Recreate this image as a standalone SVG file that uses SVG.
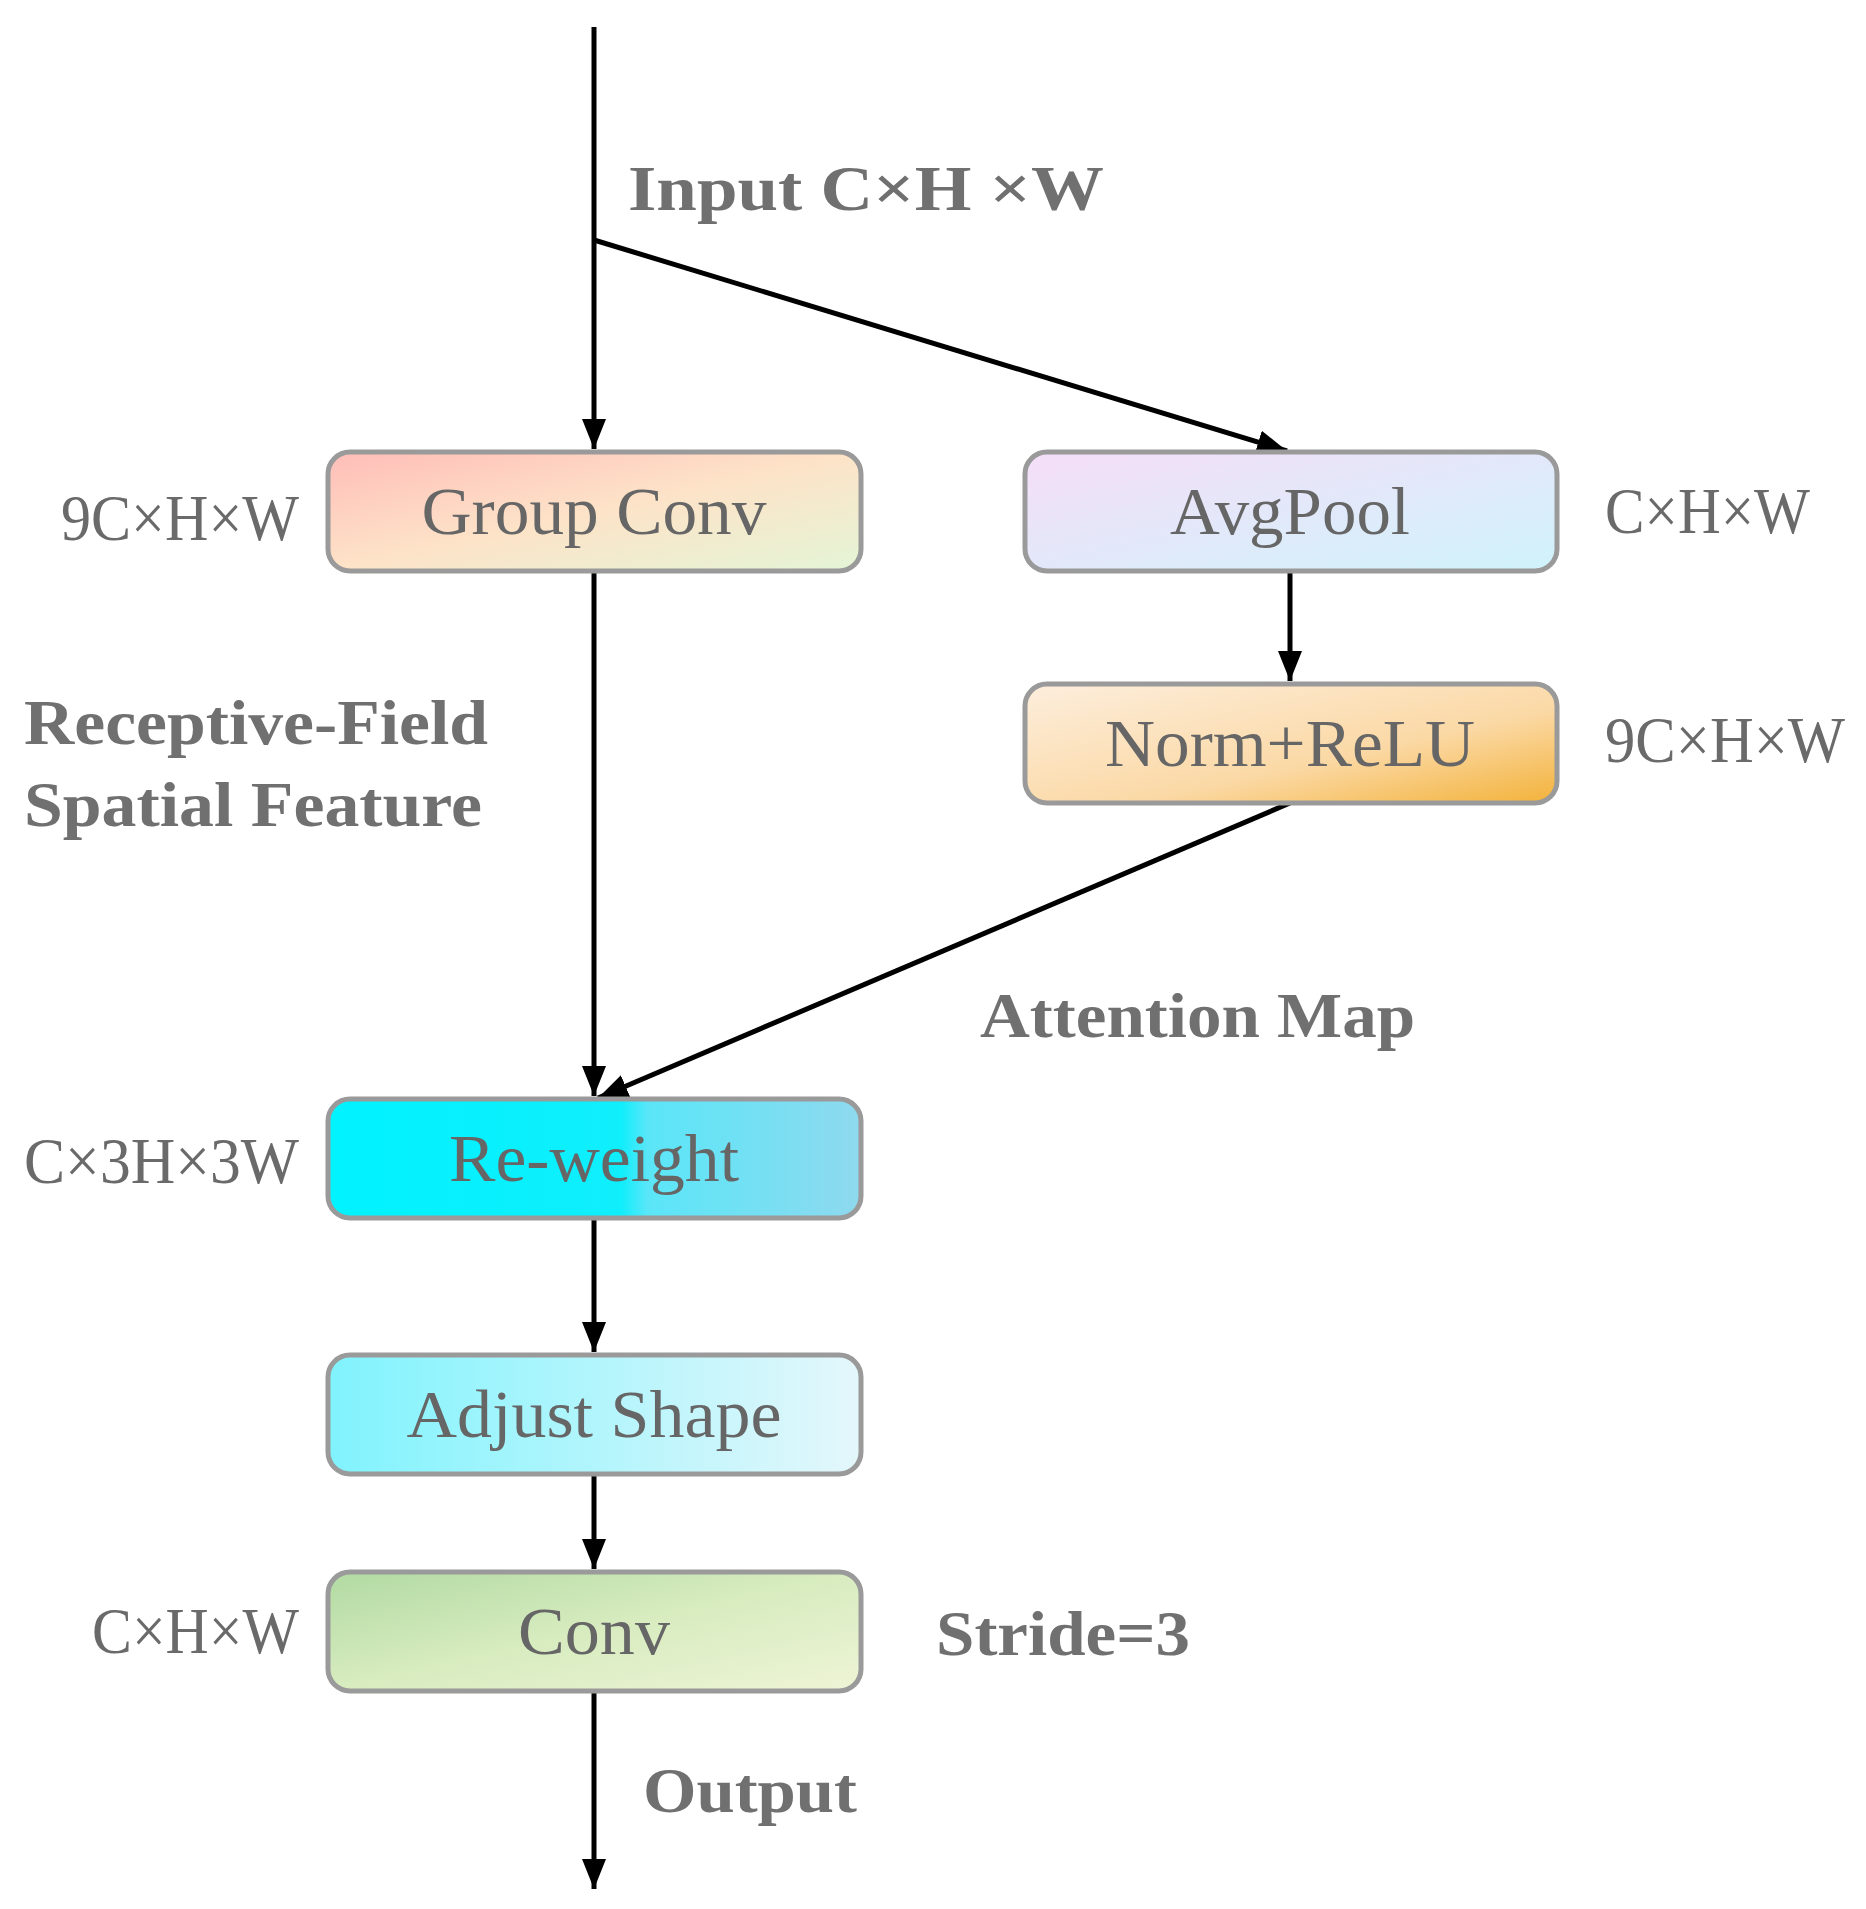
<svg xmlns="http://www.w3.org/2000/svg" width="1866" height="1909" viewBox="0 0 1866 1909">
<defs>
<linearGradient id="gGC" x1="0" y1="0" x2="1" y2="1"><stop offset="0" stop-color="#ffbdb8"/><stop offset="0.5" stop-color="#fde3c8"/><stop offset="1" stop-color="#e4f5d6"/></linearGradient>
<linearGradient id="gAP" x1="0" y1="0" x2="1" y2="1"><stop offset="0" stop-color="#f6def8"/><stop offset="1" stop-color="#cff3fb"/></linearGradient>
<linearGradient id="gNR" x1="0" y1="0" x2="1" y2="1"><stop offset="0" stop-color="#fdeedd"/><stop offset="0.6" stop-color="#fbd9a6"/><stop offset="1" stop-color="#f3b23a"/></linearGradient>
<linearGradient id="gRW" x1="0" y1="0" x2="1" y2="0"><stop offset="0" stop-color="#00f3ff"/><stop offset="0.55" stop-color="#10eefc"/><stop offset="0.6" stop-color="#5ae6f8"/><stop offset="1" stop-color="#8fd9ee"/></linearGradient>
<linearGradient id="gAS" x1="0" y1="0" x2="1" y2="0"><stop offset="0" stop-color="#80f3fd"/><stop offset="1" stop-color="#e4f7fb"/></linearGradient>
<linearGradient id="gCV" x1="0" y1="0" x2="1" y2="1"><stop offset="0" stop-color="#b1daa2"/><stop offset="0.5" stop-color="#d8ecc0"/><stop offset="1" stop-color="#eef4d6"/></linearGradient>
<marker id="arr" viewBox="0 0 10 10" refX="10" refY="5" markerWidth="6" markerHeight="6" markerUnits="strokeWidth" orient="auto"><path d="M0,1 L10,5 L0,9 z" fill="#000"/></marker>
</defs>
<style>
.box{stroke:#9a9a9a;stroke-width:5}
.nt{font-family:"Liberation Serif",serif;font-size:68px;fill:#666;text-anchor:middle}
.dim{font-family:"Liberation Serif",serif;font-size:66px;fill:#6a6a6a}
.lb{font-family:"Liberation Serif",serif;font-weight:bold;font-size:64px;fill:#707070}
.c{stroke:#000;stroke-width:5;fill:none}
</style>
<rect width="1866" height="1909" fill="#fff"/>
<g id="connectors">
<line class="c" x1="594" y1="27" x2="594" y2="449" marker-end="url(#arr)"/>
<line class="c" x1="594" y1="240" x2="1287" y2="451" marker-end="url(#arr)"/>
<line class="c" x1="1290" y1="573" x2="1290" y2="681" marker-end="url(#arr)"/>
<line class="c" x1="594" y1="571" x2="594" y2="1096" marker-end="url(#arr)"/>
<line class="c" x1="1290" y1="803" x2="598" y2="1098" marker-end="url(#arr)"/>
<line class="c" x1="594" y1="1218" x2="594" y2="1352" marker-end="url(#arr)"/>
<line class="c" x1="594" y1="1474" x2="594" y2="1569" marker-end="url(#arr)"/>
<line class="c" x1="594" y1="1691" x2="594" y2="1889" marker-end="url(#arr)"/>
</g>
<g id="groupconv"><rect class="box" x="328" y="452" width="533" height="119" rx="22" fill="url(#gGC)"/><text class="nt" x="594" y="534" textLength="345" lengthAdjust="spacingAndGlyphs">Group Conv</text></g>
<g id="avgpool"><rect class="box" x="1025" y="452" width="532" height="119" rx="22" fill="url(#gAP)"/><text class="nt" x="1290" y="534" textLength="240" lengthAdjust="spacingAndGlyphs">AvgPool</text></g>
<g id="normrelu"><rect class="box" x="1025" y="684" width="532" height="119" rx="22" fill="url(#gNR)"/><text class="nt" x="1290" y="766" textLength="370" lengthAdjust="spacingAndGlyphs">Norm+ReLU</text></g>
<g id="reweight"><rect class="box" x="328" y="1099" width="533" height="119" rx="22" fill="url(#gRW)"/><text class="nt" x="594" y="1181" textLength="290" lengthAdjust="spacingAndGlyphs">Re-weight</text></g>
<g id="adjust"><rect class="box" x="328" y="1355" width="533" height="119" rx="22" fill="url(#gAS)"/><text class="nt" x="594" y="1437" textLength="375" lengthAdjust="spacingAndGlyphs">Adjust Shape</text></g>
<g id="conv"><rect class="box" x="328" y="1572" width="533" height="119" rx="22" fill="url(#gCV)"/><text class="nt" x="594" y="1654" textLength="152" lengthAdjust="spacingAndGlyphs">Conv</text></g>
<g id="labels">
<text class="lb" x="628" y="210" textLength="476" lengthAdjust="spacingAndGlyphs">Input C×H ×W</text>
<text class="lb" x="24" y="744" textLength="464" lengthAdjust="spacingAndGlyphs">Receptive-Field</text>
<text class="lb" x="24" y="826" textLength="458" lengthAdjust="spacingAndGlyphs">Spatial Feature</text>
<text class="lb" x="980" y="1037" textLength="435" lengthAdjust="spacingAndGlyphs">Attention Map</text>
<text class="lb" x="936" y="1655" textLength="254" lengthAdjust="spacingAndGlyphs">Stride=3</text>
<text class="lb" x="643" y="1812" textLength="214" lengthAdjust="spacingAndGlyphs">Output</text>
<text class="dim" x="61" y="540" textLength="238" lengthAdjust="spacingAndGlyphs">9C×H×W</text>
<text class="dim" x="1605" y="533" textLength="205" lengthAdjust="spacingAndGlyphs">C×H×W</text>
<text class="dim" x="1605" y="762" textLength="240" lengthAdjust="spacingAndGlyphs">9C×H×W</text>
<text class="dim" x="24" y="1183" textLength="275" lengthAdjust="spacingAndGlyphs">C×3H×3W</text>
<text class="dim" x="92" y="1653" textLength="207" lengthAdjust="spacingAndGlyphs">C×H×W</text>
</g>
</svg>
